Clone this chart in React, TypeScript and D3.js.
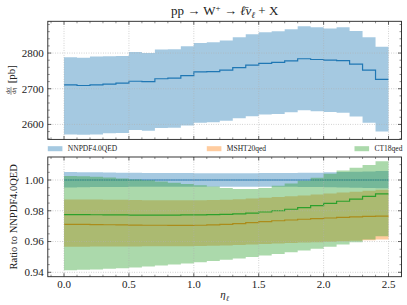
import React from "react";
import * as d3 from "d3";

const W = 407;
const H = 305;

// bin edges in eta_l
const etaEdges = [0, 0.1, 0.2, 0.3, 0.4, 0.5, 0.6, 0.7, 0.8, 0.9, 1.0, 1.1, 1.2, 1.3, 1.4, 1.5, 1.6, 1.7, 1.8, 1.9, 2.0, 2.1, 2.2, 2.3, 2.4, 2.5];

// top panel: NNPDF4.0QED cross section [pb]
const nnpdfXs = [2711, 2709, 2711, 2713, 2716, 2721, 2720, 2728, 2730, 2737, 2747, 2748, 2752, 2759, 2766, 2771, 2774, 2778, 2784, 2782, 2780, 2779, 2769, 2752, 2726];
const nnpdfXsHi = [2788, 2787, 2790, 2791, 2792, 2803, 2800, 2810, 2811, 2819, 2828, 2830, 2835, 2844, 2853, 2858, 2861, 2867, 2875, 2872, 2869, 2872, 2862, 2844, 2818];
const nnpdfXsLo = [2572, 2571, 2572, 2575, 2576, 2584, 2582, 2590, 2591, 2597, 2605, 2606, 2610, 2617, 2623, 2628, 2629, 2634, 2640, 2637, 2635, 2633, 2622, 2605, 2580];

// ratio panel
const nnpdfRatio = [1, 1, 1, 1, 1, 1, 1, 1, 1, 1, 1, 1, 1, 1, 1, 1, 1, 1, 1, 1, 1, 1, 1, 1, 1];
const nnpdfRatioHi = [1.0052, 1.0051, 1.005, 1.0049, 1.0048, 1.0047, 1.0046, 1.0046, 1.0045, 1.0045, 1.0044, 1.0044, 1.0044, 1.0044, 1.0044, 1.0045, 1.0045, 1.0046, 1.0047, 1.0048, 1.005, 1.0052, 1.0054, 1.0056, 1.0058];
const nnpdfRatioLo = [0.9952, 0.9953, 0.9954, 0.9955, 0.9955, 0.9956, 0.9956, 0.9957, 0.9957, 0.9957, 0.9957, 0.9957, 0.9957, 0.9957, 0.9957, 0.9957, 0.9956, 0.9956, 0.9955, 0.9954, 0.9953, 0.9952, 0.995, 0.9948, 0.9946];

const mshtRatio = [0.9711, 0.9711, 0.971, 0.9709, 0.9708, 0.9707, 0.9706, 0.9706, 0.9705, 0.9705, 0.9706, 0.9708, 0.9712, 0.9717, 0.9723, 0.9729, 0.9735, 0.974, 0.9745, 0.9749, 0.9753, 0.9757, 0.976, 0.9763, 0.9765];
const mshtRatioHi = [0.9874, 0.9874, 0.9873, 0.9872, 0.9871, 0.987, 0.9869, 0.9869, 0.9868, 0.9868, 0.9869, 0.987, 0.9872, 0.9875, 0.9879, 0.9884, 0.9889, 0.9894, 0.99, 0.9906, 0.9912, 0.9918, 0.9924, 0.993, 0.9936];
const mshtRatioLo = [0.9566, 0.9566, 0.9567, 0.9567, 0.9568, 0.9568, 0.9569, 0.9569, 0.957, 0.957, 0.9571, 0.9573, 0.9575, 0.9578, 0.9581, 0.9584, 0.9587, 0.959, 0.9593, 0.9596, 0.9599, 0.9602, 0.9605, 0.9609, 0.9613];

const ct18Ratio = [0.9775, 0.9775, 0.9774, 0.9773, 0.9773, 0.9772, 0.9772, 0.9772, 0.9772, 0.9773, 0.9773, 0.9775, 0.9777, 0.978, 0.9785, 0.9792, 0.98, 0.981, 0.9821, 0.9833, 0.9848, 0.9862, 0.9876, 0.9893, 0.991];
const ct18RatioHi = [1.0026, 1.0024, 1.0021, 1.0016, 1.001, 1.0004, 0.9998, 0.999, 0.9982, 0.9974, 0.9966, 0.9958, 0.9948, 0.9942, 0.9942, 0.9948, 0.9962, 0.9978, 0.9996, 1.0015, 1.004, 1.0062, 1.008, 1.0098, 1.0122];
const ct18RatioLo = [0.9413, 0.9416, 0.9419, 0.9423, 0.9427, 0.9432, 0.9438, 0.9444, 0.9451, 0.9458, 0.9465, 0.9473, 0.9481, 0.949, 0.9499, 0.9509, 0.9519, 0.953, 0.9541, 0.9553, 0.9566, 0.958, 0.9595, 0.9614, 0.9634];

const legendLabels = ["NNPDF4.0QED", "MSHT20qed", "CT18qed"];
const colors = ["#1f77b4", "#ff7f0e", "#2ca02c"];

const xTicks = [0, 0.5, 1.0, 1.5, 2.0, 2.5];
const xTickLabels = ["0.0", "0.5", "1.0", "1.5", "2.0", "2.5"];
const xMinor = [-0.1, 0.1, 0.2, 0.3, 0.4, 0.6, 0.7, 0.8, 0.9, 1.1, 1.2, 1.3, 1.4, 1.6, 1.7, 1.8, 1.9, 2.1, 2.2, 2.3, 2.4];
const topTicks = [2600, 2700, 2800];
const topMinor = [2560, 2580, 2620, 2640, 2660, 2680, 2720, 2740, 2760, 2780, 2820, 2840, 2860, 2880];
const botTicks = [0.94, 0.96, 0.98, 1.0];
const botTickLabels = ["0.94", "0.96", "0.98", "1.00"];
const botMinor = [0.945, 0.95, 0.955, 0.965, 0.97, 0.975, 0.985, 0.99, 0.995, 1.005, 1.01];

const FONT = "'Liberation Serif', 'Times New Roman', serif";

const left = 47.8;
const right = 401.5;
const x = d3.scaleLinear().domain([-0.125, 2.6]).range([left, right]);
const topY0 = 21.3;
const topY1 = 139.4;
const yTop = d3.scaleLinear().domain([2558, 2889]).range([topY1, topY0]);
const botY0 = 157;
const botY1 = 276.7;
const yBot = d3.scaleLinear().domain([0.93714, 1.01496]).range([botY1, botY0]);

type Pt = { e: number; v: number; lo: number; hi: number };

const pts = (c: number[], lo: number[], hi: number[]): Pt[] =>
  etaEdges.map((e, i) => {
    const j = Math.min(i, c.length - 1);
    return { e, v: c[j], lo: lo[j], hi: hi[j] };
  });

const Band = ({ c, lo, hi, y, color }: any) => {
  const data = pts(c, lo, hi);
  const area = d3
    .area<Pt>()
    .x((d) => x(d.e))
    .y0((d) => y(d.lo))
    .y1((d) => y(d.hi))
    .curve(d3.curveStepAfter);
  const line = d3
    .line<Pt>()
    .x((d) => x(d.e))
    .y((d) => y(d.v))
    .curve(d3.curveStepAfter);
  return (
    <g>
      <path d={area(data) || ""} fill={color} fillOpacity={0.4} stroke="none" />
      <path d={line(data) || ""} fill="none" stroke={color} strokeWidth={1.2} />
    </g>
  );
};

const Frame = ({ y, y0, y1, major, minor, labels, xLabels }: any) => (
  <g>
    {/* grid */}
    {xTicks.map((t) => (
      <line key={"gx" + t} x1={x(t)} x2={x(t)} y1={y0} y2={y1} stroke="#b0b0b0" strokeWidth={0.7} strokeDasharray="0.8,1.6" />
    ))}
    {major.map((t: number) => (
      <line key={"gy" + t} x1={left} x2={right} y1={y(t)} y2={y(t)} stroke="#b0b0b0" strokeWidth={0.7} strokeDasharray="0.8,1.6" />
    ))}
    {/* ticks */}
    {xTicks.map((t) => (
      <g key={"tx" + t}>
        <line x1={x(t)} x2={x(t)} y1={y1} y2={y1 - 3.5} stroke="#222" strokeWidth={0.7} />
        <line x1={x(t)} x2={x(t)} y1={y0} y2={y0 + 3.5} stroke="#222" strokeWidth={0.7} />
      </g>
    ))}
    {xMinor.map((t) => (
      <g key={"mx" + t}>
        <line x1={x(t)} x2={x(t)} y1={y1} y2={y1 - 2} stroke="#222" strokeWidth={0.5} />
        <line x1={x(t)} x2={x(t)} y1={y0} y2={y0 + 2} stroke="#222" strokeWidth={0.5} />
      </g>
    ))}
    {major.map((t: number) => (
      <g key={"ty" + t}>
        <line x1={left} x2={left + 3.5} y1={y(t)} y2={y(t)} stroke="#222" strokeWidth={0.7} />
        <line x1={right} x2={right - 3.5} y1={y(t)} y2={y(t)} stroke="#222" strokeWidth={0.7} />
      </g>
    ))}
    {minor.map((t: number) => (
      <g key={"my" + t}>
        <line x1={left} x2={left + 2} y1={y(t)} y2={y(t)} stroke="#222" strokeWidth={0.5} />
        <line x1={right} x2={right - 2} y1={y(t)} y2={y(t)} stroke="#222" strokeWidth={0.5} />
      </g>
    ))}
    {major.map((t: number, i: number) => (
      <text key={"ly" + t} x={left - 4} y={y(t)} dy="0.35em" textAnchor="end" fontSize={11} fontFamily={FONT} fill="#222">
        {labels[i]}
      </text>
    ))}
    {xLabels &&
      xTicks.map((t, i) => (
        <text key={"lx" + t} x={x(t)} y={y1 + 11} textAnchor="middle" fontSize={11} fontFamily={FONT} fill="#222">
          {xTickLabels[i]}
        </text>
      ))}
    <rect x={left} y={y0} width={right - left} height={y1 - y0} fill="none" stroke="#222" strokeWidth={0.9} />
  </g>
);

const legendX = [47.8, 206.8, 354.5];

export default function App() {
  return (
    <svg width={W} height={H} style={{ position: "absolute", left: 0, top: 0, background: "#fff" }}>
      {/* top panel */}
      <Band c={nnpdfXs} lo={nnpdfXsLo} hi={nnpdfXsHi} y={yTop} color={colors[0]} />
      <Frame y={yTop} y0={topY0} y1={topY1} major={topTicks} minor={topMinor} labels={topTicks.map(String)} xLabels={false} />

      {/* ratio panel */}
      <Band c={nnpdfRatio} lo={nnpdfRatioLo} hi={nnpdfRatioHi} y={yBot} color={colors[0]} />
      <Band c={mshtRatio} lo={mshtRatioLo} hi={mshtRatioHi} y={yBot} color={colors[1]} />
      <Band c={ct18Ratio} lo={ct18RatioLo} hi={ct18RatioHi} y={yBot} color={colors[2]} />
      <Frame y={yBot} y0={botY0} y1={botY1} major={botTicks} minor={botMinor} labels={botTickLabels} xLabels={true} />

      {/* legend */}
      {legendLabels.map((l, i) => (
        <g key={l}>
          <rect x={legendX[i]} y={146.2} width={14.6} height={5} fill={colors[i]} fillOpacity={0.4} />
          <text x={legendX[i] + 20} y={151} fontSize={7.5} fontFamily={FONT} fill="#222">
            {l}
          </text>
        </g>
      ))}

      {/* title */}
      <text x={(left + right) / 2} y={15} textAnchor="middle" fontSize={13} fontFamily={FONT} fill="#222">
        pp → W<tspan dy={-4.5} fontSize={9}>+</tspan>
        <tspan dy={4.5}> → </tspan>
        <tspan fontStyle="italic">ℓ̄ν</tspan>
        <tspan dy={2.5} fontSize={9} fontStyle="italic">ℓ</tspan>
        <tspan dy={-2.5}> + X</tspan>
      </text>

      {/* y labels */}
      <g transform={`translate(13.5, ${(topY0 + topY1) / 2}) rotate(-90)`}>
        <line x1={-14.5} x2={-6.5} y1={-2.5} y2={-2.5} stroke="#222" strokeWidth={0.5} />
        <text x={-10.5} y={-3.6} textAnchor="middle" fontSize={6} fontFamily={FONT} fill="#222">
          d<tspan fontStyle="italic">σ</tspan>
        </text>
        <text x={-10.5} y={2.6} textAnchor="middle" fontSize={6} fontFamily={FONT} fill="#222">
          d<tspan fontStyle="italic">η</tspan>
        </text>
        <text x={-3} y={1.5} textAnchor="start" fontSize={11} fontFamily={FONT} fill="#222">
          [pb]
        </text>
      </g>
      <text
        transform={`translate(17, ${(botY0 + botY1) / 2}) rotate(-90)`}
        textAnchor="middle"
        fontSize={10.5}
        fontFamily={FONT}
        fill="#222"
      >
        Ratio to NNPDF4.0QED
      </text>

      {/* x label */}
      <text x={(left + right) / 2} y={298} textAnchor="middle" fontSize={11} fontFamily={FONT} fill="#222">
        <tspan fontStyle="italic">η</tspan>
        <tspan dy={2.5} fontSize={7.5} fontStyle="italic">ℓ</tspan>
      </text>
    </svg>
  );
}
